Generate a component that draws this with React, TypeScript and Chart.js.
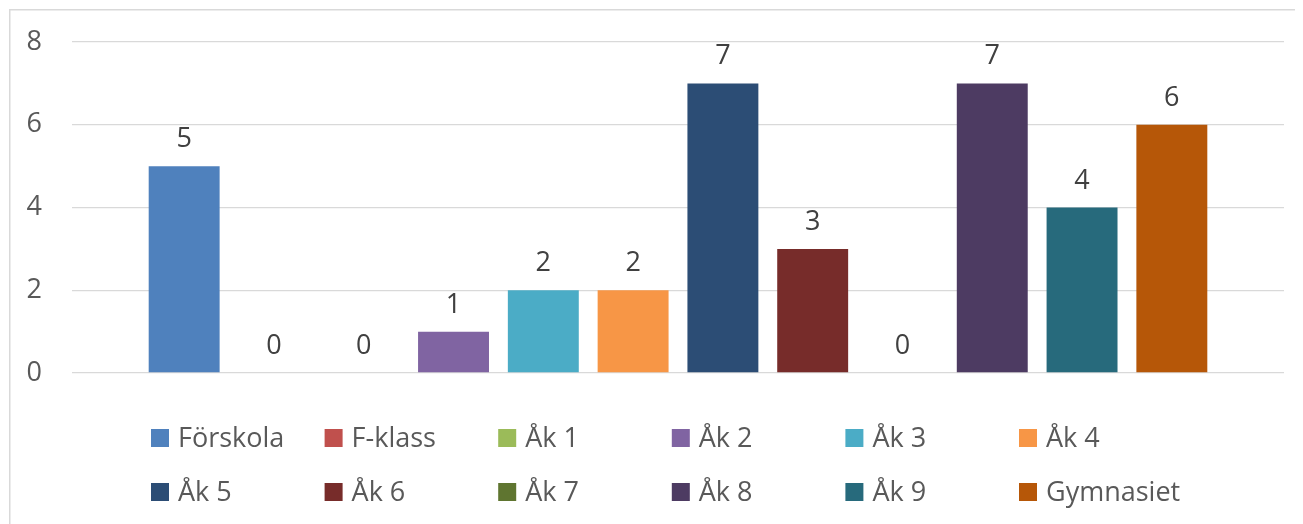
import React, { useEffect, useRef } from "react";
import { Chart, registerables } from "chart.js";

Chart.register(...registerables);

const categories: string[] = [""];
const seriesNames: string[] = [
  "Förskola", "F-klass", "Åk 1", "Åk 2", "Åk 3", "Åk 4",
  "Åk 5", "Åk 6", "Åk 7", "Åk 8", "Åk 9", "Gymnasiet",
];
const seriesValues: number[] = [5, 0, 0, 1, 2, 2, 7, 3, 0, 7, 4, 6];
const seriesColors: string[] = [
  "#4F81BD", "#C0504D", "#9BBB59", "#8064A2", "#4BACC6", "#F79646",
  "#2C4D75", "#772C2A", "#5F7530", "#4D3B62", "#276A7C", "#B65708",
];
const yTicks: number[] = [0, 2, 4, 6, 8];

const FONT = '"Open Sans", "Noto Sans", sans-serif';
const TEXT_COLOR = "#595959";
const FONT_SIZE = 27;

const frameBorder = {
  id: "frameBorder",
  beforeDraw(chart: any) {
    const { ctx, height, width } = chart;
    ctx.save();
    ctx.fillStyle = "#ffffff";
    ctx.fillRect(0, 0, width, height);
    ctx.fillStyle = "#d9d9d9";
    ctx.fillRect(1, 1, 1.5, height);
    ctx.fillRect(1, 1, width, 1.5);
    ctx.restore();
  },
};

const dataLabels = {
  id: "dataLabels",
  afterDatasetsDraw(chart: any) {
    const { ctx } = chart;
    ctx.save();
    ctx.font = `${FONT_SIZE}px ${FONT}`;
    ctx.fillStyle = "#404040";
    ctx.textAlign = "center";
    ctx.textBaseline = "alphabetic";
    chart.data.datasets.forEach((ds: any, i: number) => {
      const meta = chart.getDatasetMeta(i);
      meta.data.forEach((el: any, j: number) => {
        ctx.fillText(String(ds.data[j]), el.x, el.y - 19);
      });
    });
    ctx.restore();
  },
};

const gridLegend = {
  id: "gridLegend",
  afterDraw(chart: any) {
    const { ctx, chartArea } = chart;
    const perRow = 6;
    const colStep = 173.6;
    const startX = chartArea.left + 79;
    const rowY = [chartArea.bottom + 56, chartArea.bottom + 110];
    const box = 18;
    ctx.save();
    ctx.font = `${FONT_SIZE}px ${FONT}`;
    ctx.textAlign = "left";
    ctx.textBaseline = "middle";
    chart.data.datasets.forEach((ds: any, i: number) => {
      const col = i % perRow;
      const row = Math.floor(i / perRow);
      const x = startX + col * colStep;
      const y = rowY[row];
      ctx.fillStyle = ds.backgroundColor;
      ctx.fillRect(x, y, box, box);
      ctx.fillStyle = TEXT_COLOR;
      ctx.fillText(ds.label, x + 27, y + box / 2 + 1);
    });
    ctx.restore();
  },
};

export default function App() {
  const ref = useRef<HTMLCanvasElement | null>(null);
  useEffect(() => {
    if (!ref.current) return;
    const chart = new Chart(ref.current, {
      type: "bar",
      data: {
        labels: categories,
        datasets: seriesNames.map((name, i) => ({
          label: name,
          data: [seriesValues[i]],
          backgroundColor: seriesColors[i],
          borderWidth: 0,
          categoryPercentage: 0.889,
          barPercentage: 0.79,
        })),
      },
      options: {
        animation: false,
        responsive: false,
        maintainAspectRatio: false,
        layout: { padding: { top: 34, right: 19, bottom: 151, left: 0 } },
        plugins: {
          legend: { display: false },
          tooltip: { enabled: false },
        },
        scales: {
          x: { display: false },
          y: {
            min: 0,
            max: 8,
            afterBuildTicks(axis: any) {
              axis.ticks = yTicks.map((v) => ({ value: v }));
            },
            afterFit(axis: any) {
              axis.width = 64;
              axis.paddingTop = 0;
              axis.paddingBottom = 0;
            },
            border: { display: false },
            grid: { color: "#d9d9d9", lineWidth: 1.3, drawTicks: false },
            ticks: {
              padding: 30,
              color: TEXT_COLOR,
              font: { family: FONT, size: FONT_SIZE },
            },
          },
        },
      },
      plugins: [frameBorder, dataLabels, gridLegend],
    });
    return () => chart.destroy();
  }, []);
  return (
    <div style={{ width: 1295, height: 516 }}>
      <canvas ref={ref} width={1295} height={516} style={{ display: "block" }} />
    </div>
  );
}
